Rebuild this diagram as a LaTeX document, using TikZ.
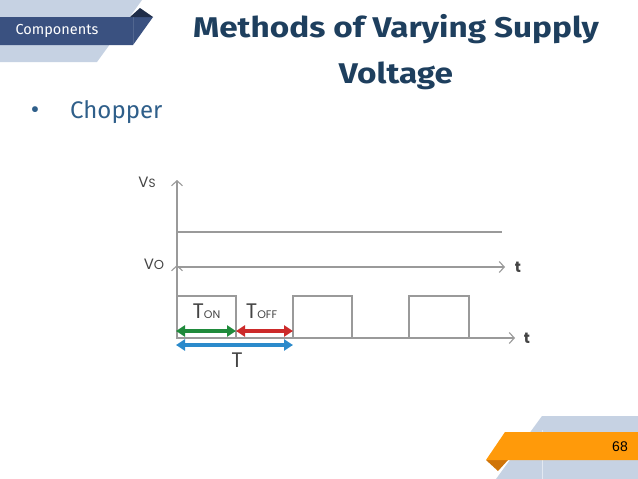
\documentclass[tikz,border=0pt]{standalone}
\usepackage{fontspec}
\setmainfont{Fira Sans}
\newfontfamily\titlef[FakeStretch=1.17]{Fira Sans}
\newfontfamily\bodyf{Fira Sans}
\newfontfamily\diagf{Poppins}
\newfontfamily\arialf{Liberation Sans}
\usetikzlibrary{arrows.meta}
\definecolor{lightband}{HTML}{C6D2E3}
\definecolor{darkband}{HTML}{3A5180}
\definecolor{navyfold}{HTML}{1F2D48}
\definecolor{titleblue}{HTML}{1E3F5E}
\definecolor{bodyblue}{HTML}{2F5F8A}
\definecolor{axisgray}{HTML}{9A9A9A}
\definecolor{labelgray}{HTML}{444444}
\definecolor{tongreen}{HTML}{1F8A3B}
\definecolor{toffred}{HTML}{CC2A2A}
\definecolor{tblue}{HTML}{2B8ACB}
\definecolor{orangeband}{HTML}{FF9A0A}
\definecolor{orangefold}{HTML}{CF7408}
\tikzset{
  axisline/.style={draw=axisgray, line width=1.1pt},
  axisarrow/.style={axisline, -{Straight Barb[length=5pt,width=11pt]}},
  dimarrow/.style={line width=3.8pt, {Triangle[length=9pt,width=11pt]}-{Triangle[length=9pt,width=11pt]}, shorten <=0pt, shorten >=0pt},
  difflabel/.style={text=labelgray, font=\diagf, inner sep=0pt},
  tlabel/.style={text=labelgray, font=\diagf\bfseries\fontsize{15}{15}\selectfont, inner sep=0pt}
}
\begin{document}
\begin{tikzpicture}[x=1pt,y=-1pt]
\useasboundingbox (0,0) rectangle (638,479);
\fill[white] (0,0) rectangle (638,479);
% header decoration
\fill[lightband] (0,0) -- (142,0) -- (97,62) -- (0,62) -- cycle;
\fill[darkband] (0,17) -- (153,17) -- (133,45) -- (0,45) -- cycle;
\fill[navyfold] (130,17) -- (140,8) -- (153,17) -- cycle;
\draw[white, opacity=0.12, line width=0.6pt] (133,17) -- (133,45);
\node[text=white, font=\bodyf\fontsize{14.5}{14.5}\selectfont, inner sep=0pt] (comp) at (57,31) {Components};
% title
\node[text=titleblue, font=\titlef\bfseries\fontsize{28.5}{28.5}\selectfont, inner sep=0pt, anchor=base] (title1) at (396,37) {Methods of Varying Supply};
\node[text=titleblue, font=\titlef\bfseries\fontsize{28.5}{28.5}\selectfont, inner sep=0pt, anchor=base] (title2) at (396,83) {Voltage};
% bullet
\node[text=bodyblue, font=\bodyf\fontsize{26}{26}\selectfont, inner sep=0pt] (bul) at (35,113) {•};
\node[text=bodyblue, font=\bodyf\fontsize{24}{24}\selectfont, inner sep=0pt, anchor=base west] (chop) at (70,118) {Chopper};
% diagram coordinates
\coordinate (O) at (177,338);
\coordinate (vstop) at (177,180);
\coordinate (votop) at (177,265);
\coordinate (vsa) at (177,232);
\coordinate (vsb) at (502,232);
\coordinate (voa) at (177,267);
\coordinate (vob) at (505,267);
\coordinate (tb) at (515,338);
% axes
\draw[axisarrow] (O) -- (vstop);
\draw[axisarrow] (O) -- (votop);
\draw[axisline] (vsa) -- (vsb);
\draw[axisarrow] (voa) -- (vob);
\draw[axisarrow] (O) -- (tb);
% pulses
\draw[axisline] (177,296) rectangle (236,338);
\draw[axisline] (293,296) rectangle (352,338);
\draw[axisline] (409,296) rectangle (469,338);
% labels
\node[difflabel, font=\diagf\fontsize{15}{15}\selectfont, anchor=base] (vs) at (147,187) {V{\fontsize{12}{12}\selectfont S}};
\node[difflabel, font=\diagf\fontsize{15}{15}\selectfont, anchor=base] (vo) at (154,269) {V{\fontsize{13}{13}\selectfont O}};
\node[tlabel] (t1) at (518,267) {t};
\node[tlabel] (t2) at (527,338) {t};
\node[difflabel, font=\diagf\fontsize{21}{21}\selectfont, anchor=base] (ton) at (206.5,318) {T{\fontsize{11}{11}\selectfont ON}};
\node[difflabel, font=\diagf\fontsize{21}{21}\selectfont, anchor=base] (toff) at (261.5,318) {T{\fontsize{11}{11}\selectfont OFF}};
\node[difflabel, font=\diagf\fontsize{21}{21}\selectfont, anchor=base] (tt) at (237,367) {T};
% dimension arrows
\coordinate (g1) at (176,331);
\coordinate (g2) at (236,331);
\coordinate (r2) at (293,331);
\coordinate (b1) at (176,345);
\coordinate (b2) at (293,345);
\draw[dimarrow, tongreen] (g1) -- (g2);
\draw[dimarrow, toffred] (g2) -- (r2);
\draw[dimarrow, tblue] (b1) -- (b2);
% footer
\fill[lightband] (542,416) -- (638,416) -- (638,479) -- (496,479) -- cycle;
\draw[white, opacity=0.5, line width=0.6pt] (542,430) -- (542,479);
\fill[orangefold] (486,460) -- (498,471) -- (508,460) -- cycle;
\fill[orangeband] (505,432) -- (638,432) -- (638,460) -- (486,460) -- cycle;
\node[text=black, font=\arialf\fontsize{14}{14}\selectfont, inner sep=0pt] (pg) at (620,447) {68};
\end{tikzpicture}
\end{document}
